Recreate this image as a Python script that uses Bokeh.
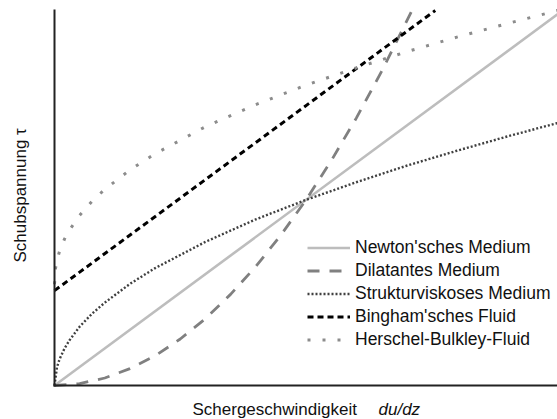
import math
from bokeh.plotting import figure
from bokeh.models import Range1d, Label
from bokeh.embed import file_html
from bokeh.resources import INLINE

# ---- data (normalised axes 0..1) ----
newton_x = [0.0, 1.0]
newton_y = [0.0, 0.99]

dilatant_x = [0.0, 0.05, 0.1, 0.15, 0.2, 0.25, 0.3, 0.35, 0.4, 0.45, 0.5, 0.55, 0.6, 0.65, 0.71]
dilatant_y = [0.0, 0.005, 0.020, 0.045, 0.079, 0.124, 0.178, 0.243, 0.317, 0.401, 0.495, 0.599, 0.713, 0.837, 0.998]

struktur_x = [0.0, 0.005, 0.01, 0.02, 0.03, 0.05, 0.075, 0.1, 0.15, 0.2, 0.3, 0.4, 0.5, 0.6, 0.7, 0.8, 0.9, 1.0]
struktur_y = [0.0, 0.049, 0.070, 0.099, 0.121, 0.157, 0.192, 0.221, 0.271, 0.313, 0.383, 0.443, 0.495, 0.542, 0.586, 0.626, 0.664, 0.700]

bingham_x = [0.0, 0.757]
bingham_y = [0.253, 1.0]

hb_x = [0.0, 0.002, 0.005, 0.01, 0.02, 0.03, 0.05, 0.075, 0.1, 0.15, 0.2, 0.3, 0.4, 0.5, 0.6, 0.7, 0.8, 0.9, 1.0]
hb_y = [0.27, 0.312, 0.334, 0.358, 0.391, 0.415, 0.454, 0.492, 0.523, 0.575, 0.618, 0.690, 0.749, 0.801, 0.847, 0.890, 0.929, 0.965, 1.0]

series_labels = ["Newton'sches Medium", "Dilatantes Medium", "Strukturviskoses Medium",
                 "Bingham'sches Fluid", "Herschel-Bulkley-Fluid"]
x_label_main = "Schergeschwindigkeit"
x_label_ital = "du/dz"
y_label = "Schubspannung \u03c4"

# axis extents (data units)
x_axis_min, x_axis_max = 0.0, 1.0
y_axis_min, y_axis_max = 0.0, 1.0

FONT = "Liberation Sans"
W, H = 557, 419
LEFT, RIGHT, TOP, BOTTOM = 54, 557, 10, 385   # pixel position of the axes

sx = (RIGHT - LEFT) / (x_axis_max - x_axis_min)
sy = (BOTTOM - TOP) / (y_axis_max - y_axis_min)
x_range = Range1d(x_axis_min - LEFT / sx, x_axis_max + (W - RIGHT) / sx)
y_range = Range1d(y_axis_min - (H - BOTTOM) / sy, y_axis_max + TOP / sy)

p = figure(width=W, height=H, output_backend="svg", toolbar_location=None,
           x_range=x_range, y_range=y_range,
           min_border=0, min_border_left=0, min_border_right=0,
           min_border_top=0, min_border_bottom=0)
p.axis.visible = False
p.outline_line_color = None
p.grid.visible = False
p.background_fill_color = "white"
p.border_fill_color = "white"

p.line(newton_x, newton_y, line_color="#bdbdbd", line_width=2.6, legend_label=series_labels[0])
p.line(dilatant_x, dilatant_y, line_color="#808080", line_width=2.8, line_dash="12 10",
       legend_label=series_labels[1])
p.line(struktur_x, struktur_y, line_color="#404040", line_width=2.4, line_dash="2 2",
       legend_label=series_labels[2])
p.line(bingham_x, bingham_y, line_color="#000000", line_width=3, line_dash="6 4",
       legend_label=series_labels[3])
p.line(hb_x, hb_y, line_color="#8c8c8c", line_width=3, line_dash="3 12",
       legend_label=series_labels[4])

# axis lines (left and bottom)
p.segment(x0=[x_axis_min, x_axis_min], y0=[y_axis_min, y_axis_min],
          x1=[x_axis_min, x_axis_max], y1=[y_axis_max, y_axis_min],
          line_color="#222222", line_width=2, line_cap="square")

lg = p.legend[0]
lg.location = (307, 68)
lg.border_line_color = None
lg.background_fill_alpha = 0
lg.padding = 0
lg.margin = 0
lg.spacing = 0
lg.glyph_width = 43
lg.glyph_height = 23
lg.label_height = 23
lg.label_standoff = 5
lg.label_text_font = FONT
lg.label_text_font_size = "17.5px"
lg.label_text_color = "#111111"

p.add_layout(Label(x=192, y=10, x_units="screen", y_units="screen", text=x_label_main,
                   text_font=FONT, text_font_size="17px", text_color="#111111",
                   text_align="left", text_baseline="alphabetic"))
p.add_layout(Label(x=378, y=10, x_units="screen", y_units="screen", text=x_label_ital,
                   text_font=FONT, text_font_size="17px", text_font_style="italic",
                   text_color="#111111", text_align="left", text_baseline="alphabetic"))
p.add_layout(Label(x=20, y=157, x_units="screen", y_units="screen", text=y_label,
                   angle=math.pi / 2, text_font=FONT, text_font_size="17px", text_color="#111111",
                   text_align="left", text_baseline="alphabetic"))

open("out.html", "w").write(file_html(p, INLINE))
